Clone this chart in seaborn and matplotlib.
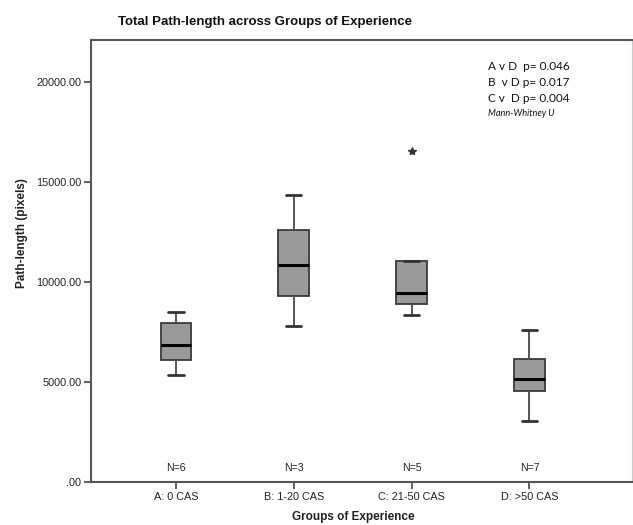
import matplotlib
matplotlib.use("Agg")
import matplotlib.pyplot as plt
import seaborn as sns
import pandas as pd

sns.set_theme(style="white")
plt.rcParams['font.family'] = ['Liberation Sans', 'DejaVu Sans']

groups = ["A: 0 CAS", "B: 1-20 CAS", "C: 21-50 CAS", "D: >50 CAS"]
group_a = [5367, 5900, 6632, 7034, 8255, 8515]
group_b = [7800, 10850, 14350]
group_c = [8350, 8917, 9433, 11050, 16550]
group_d = [3050, 4400, 4700, 5167, 5900, 6400, 7583]
n_labels = ["N=6", "N=3", "N=5", "N=7"]
y_ticks = [0, 5000, 10000, 15000, 20000]
y_tick_labels = [".00", "5000.00", "10000.00", "15000.00", "20000.00"]
annotation_lines = ["A v D  p= 0.046", "B  v D p= 0.017", "C v  D p= 0.004"]

rows = []
for g, vals in zip(groups, [group_a, group_b, group_c, group_d]):
    for v in vals:
        rows.append({"group": g, "value": v})
df = pd.DataFrame(rows)

fig = plt.figure(figsize=(6.33, 5.25), dpi=100)
ax = fig.add_axes([91/633, 1 - 482/525, (632 - 91)/633, (482 - 40)/525])

sns.boxplot(data=df, x="group", y="value", order=groups, ax=ax, width=0.26,
            color="#999999", linewidth=1.3,
            boxprops=dict(facecolor="#9a9a9a", edgecolor="#3a3a3a"),
            whiskerprops=dict(color="#555555", linewidth=1.4),
            capprops=dict(color="#333333", linewidth=2),
            medianprops=dict(color="#000000", linewidth=2.2),
            flierprops=dict(marker="*", markersize=6, markerfacecolor="#333333",
                            markeredgecolor="#333333"))

ax.set_xlim(-0.72, 3.87)
ax.set_ylim(0, 22100)
ax.set_yticks(y_ticks)
ax.set_yticklabels(y_tick_labels, fontsize=7.8, color="#222222")
ax.set_xticks(range(len(groups)))
ax.set_xticklabels(groups, fontsize=7.8, color="#222222")
ax.tick_params(axis="both", direction="out", length=5, width=1.2, color="#444444",
               bottom=True, left=True, pad=2)
ax.set_xlabel("")
ax.set_ylabel("")
for side in ["left", "bottom", "top", "right"]:
    ax.spines[side].set_visible(True)
    ax.spines[side].set_color("#555555")
    ax.spines[side].set_linewidth(1.5)
ax.spines["right"].set_color("#cccccc")
ax.spines["right"].set_linewidth(0.8)

for i, lab in enumerate(n_labels):
    ax.text(i, 700, lab, ha="center", va="center", fontsize=7.6, color="#222222")

ys = [66, 82, 99]
for yy, line in zip(ys, annotation_lines):
    fig.text(488/633, 1 - yy/525, line, ha="left", va="center", fontsize=8.5,
             family=["Lato", "DejaVu Sans"], color="#111111")
fig.text(488/633, 1 - 113/525, "Mann-Whitney U", ha="left", va="center",
         fontsize=6.6, style="italic", family=["Lato", "DejaVu Sans"], color="#111111")

fig.text(265/633, 1 - 22/525, "Total Path-length across Groups of Experience",
         ha="center", va="center", fontsize=9.5, fontweight="bold", color="#111111")
fig.text(353/633, 1 - 517/525, "Groups of Experience", ha="center", va="center",
         fontsize=8.5, fontweight="bold", color="#222222")
fig.text(22/633, 1 - 233/525, "Path-length (pixels)", ha="center", va="center",
         rotation=90, fontsize=8.5, fontweight="bold", color="#222222")

fig.savefig("out.png", dpi=100, facecolor="white")
